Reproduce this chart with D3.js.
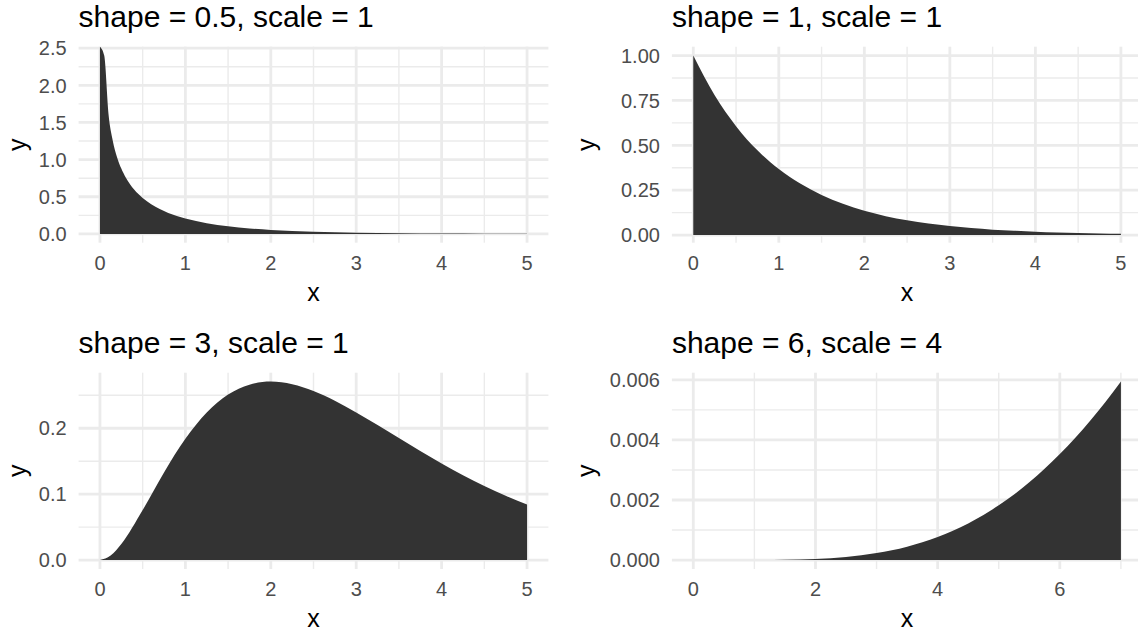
<!DOCTYPE html>
<html><head><meta charset="utf-8">
<script src="https://cdn.jsdelivr.net/npm/d3@7"></script>
<style>
html,body{margin:0;padding:0;background:#fff;overflow:hidden;}
svg{display:block;font-family:"Liberation Sans",Arial,Helvetica,sans-serif;}
</style></head>
<body>
<svg id="chart" width="1138" height="632"></svg>
<script>
// ---- data (density values) ----
const titles = ["shape = 0.5, scale = 1", "shape = 1, scale = 1", "shape = 3, scale = 1", "shape = 6, scale = 4"];

const p1X = [0, 0.05, 0.1, 0.15, 0.2, 0.25, 0.3, 0.35, 0.4, 0.45, 0.5, 0.6, 0.7, 0.8, 0.9, 1.0, 1.25, 1.5, 1.75, 2.0, 2.5, 3.0, 3.5, 4.0, 4.5, 5.0];
const p1Y = [Infinity, 2.400, 1.614, 1.254, 1.033, 0.879, 0.763, 0.672, 0.598, 0.536, 0.484, 0.400, 0.335, 0.283, 0.242, 0.208, 0.145, 0.103, 0.074, 0.054, 0.029, 0.016, 0.009, 0.005, 0.003, 0.0017];

const p2X = [0, 0.25, 0.5, 0.75, 1, 1.25, 1.5, 1.75, 2, 2.25, 2.5, 2.75, 3, 3.25, 3.5, 3.75, 4, 4.25, 4.5, 4.75, 5];
const p2Y = [1, 0.779, 0.607, 0.472, 0.368, 0.287, 0.223, 0.174, 0.135, 0.105, 0.082, 0.064, 0.050, 0.039, 0.030, 0.024, 0.018, 0.014, 0.011, 0.009, 0.007];

const p3X = [0, 0.125, 0.25, 0.5, 0.75, 1, 1.25, 1.5, 1.75, 2, 2.25, 2.5, 2.75, 3, 3.25, 3.5, 3.75, 4, 4.25, 4.5, 4.75, 5];
const p3Y = [0, 0.0069, 0.0243, 0.0758, 0.1329, 0.1839, 0.2238, 0.2510, 0.2661, 0.2707, 0.2668, 0.2565, 0.2417, 0.2240, 0.2049, 0.1850, 0.1654, 0.1465, 0.1288, 0.1125, 0.0976, 0.0842];

const p4X = [0, 0.5, 1, 1.5, 2, 2.5, 3, 3.25, 3.5, 3.75, 4, 4.25, 4.5, 4.75, 5, 5.25, 5.5, 5.75, 6, 6.25, 6.5, 6.75, 7];
const p4Y = [0, 0.00000006, 0.0000016, 0.0000106, 0.0000395, 0.0001064, 0.0002335, 0.000327, 0.0004455, 0.000591, 0.0007664, 0.000975, 0.001219, 0.001500, 0.0018215, 0.002184, 0.002589, 0.003037, 0.003530, 0.004067, 0.004648, 0.005274, 0.005942];

// tick values and labels
const xBreaks5 = [0, 1, 2, 3, 4, 5];
const xLabels5 = ["0", "1", "2", "3", "4", "5"];
const xBreaks7 = [0, 2, 4, 6];
const xLabels7 = ["0", "2", "4", "6"];
const p1YBreaks = [0, 0.5, 1, 1.5, 2, 2.5];
const p1YLabels = ["0.0", "0.5", "1.0", "1.5", "2.0", "2.5"];
const p2YBreaks = [0, 0.25, 0.5, 0.75, 1];
const p2YLabels = ["0.00", "0.25", "0.50", "0.75", "1.00"];
const p3YBreaks = [0, 0.1, 0.2];
const p3YLabels = ["0.0", "0.1", "0.2"];
const p4YBreaks = [0, 0.002, 0.004, 0.006];
const p4YLabels = ["0.000", "0.002", "0.004", "0.006"];

// ---- layout ----
const cols = [{left: 78.6, right: 548.4, plotX: 0}, {left: 671.9, right: 1142.3, plotX: 569}];
const rows = [{top: 46.7, bottom: 242.7, titleY: 26.7}, {top: 372.7, bottom: 569, titleY: 352.7}];

const panels = [
  {title: titles[0], xs: p1X, ys: p1Y, xb: xBreaks5, xl: xLabels5, yb: p1YBreaks, yl: p1YLabels, c: 0, r: 0},
  {title: titles[1], xs: p2X, ys: p2Y, xb: xBreaks5, xl: xLabels5, yb: p2YBreaks, yl: p2YLabels, c: 1, r: 0},
  {title: titles[2], xs: p3X, ys: p3Y, xb: xBreaks5, xl: xLabels5, yb: p3YBreaks, yl: p3YLabels, c: 0, r: 1},
  {title: titles[3], xs: p4X, ys: p4Y, xb: xBreaks7, xl: xLabels7, yb: p4YBreaks, yl: p4YLabels, c: 1, r: 1}
];

const svg = d3.select("#chart");
const gridCol = "#EBEBEB";

function minorBreaks(breaks, domain) {
  const step = breaks[1] - breaks[0];
  const out = [];
  for (let i = -1; i < breaks.length; i++) {
    const v = breaks[0] + (i + 0.5) * step;
    if (v >= domain[0] && v <= domain[1]) out.push(v);
  }
  return out;
}

panels.forEach(p => {
  const col = cols[p.c], row = rows[p.r];
  const xMin = d3.min(p.xs), xMax = d3.max(p.xs);
  const xPad = (xMax - xMin) * 0.05;
  const finite = p.ys.filter(v => isFinite(v));
  const yMin = d3.min(finite), yMax = d3.max(finite);
  const yPad = (yMax - yMin) * 0.05;
  const x = d3.scaleLinear().domain([xMin - xPad, xMax + xPad]).range([col.left, col.right]);
  const y = d3.scaleLinear().domain([yMin - yPad, yMax + yPad]).range([row.bottom, row.top]).clamp(true);

  const g = svg.append("g");
  // minor grid
  const xm = minorBreaks(p.xb, x.domain());
  const ym = minorBreaks(p.yb, y.domain());
  g.selectAll(".xminor").data(xm).join("line")
    .attr("x1", d => x(d)).attr("x2", d => x(d)).attr("y1", row.top).attr("y2", row.bottom)
    .attr("stroke", gridCol).attr("stroke-width", 1.4);
  g.selectAll(".yminor").data(ym).join("line")
    .attr("y1", d => y(d)).attr("y2", d => y(d)).attr("x1", col.left).attr("x2", col.right)
    .attr("stroke", gridCol).attr("stroke-width", 1.4);
  // major grid
  g.selectAll(".xmajor").data(p.xb).join("line")
    .attr("x1", d => x(d)).attr("x2", d => x(d)).attr("y1", row.top).attr("y2", row.bottom)
    .attr("stroke", gridCol).attr("stroke-width", 2.8);
  g.selectAll(".ymajor").data(p.yb).join("line")
    .attr("y1", d => y(d)).attr("y2", d => y(d)).attr("x1", col.left).attr("x2", col.right)
    .attr("stroke", gridCol).attr("stroke-width", 2.8);

  // area
  const pts = p.xs.map((v, i) => [v, p.ys[i]]);
  const area = d3.area().x(d => x(d[0])).y0(y(0)).y1(d => y(d[1])).curve(d3.curveMonotoneX);
  g.append("path").datum(pts).attr("d", area).attr("fill", "#333333");

  // x tick labels
  g.selectAll(".xt").data(p.xb).join("text")
    .attr("x", d => x(d)).attr("y", row.bottom + 27.3)
    .attr("text-anchor", "middle").attr("font-size", 20).attr("fill", "#4D4D4D")
    .text((d, i) => p.xl[i]);
  // y tick labels
  g.selectAll(".yt").data(p.yb).join("text")
    .attr("x", col.left - 12).attr("y", d => y(d)).attr("dy", "0.36em")
    .attr("text-anchor", "end").attr("font-size", 20).attr("fill", "#4D4D4D")
    .text((d, i) => p.yl[i]);
  // title
  g.append("text").attr("x", col.left).attr("y", row.titleY)
    .attr("font-size", 30).attr("fill", "#000").text(p.title);
  // axis titles
  g.append("text").attr("x", (col.left + col.right) / 2).attr("y", row.bottom + 58)
    .attr("text-anchor", "middle").attr("font-size", 25).attr("fill", "#000").text("x");
  const cy = (row.top + row.bottom) / 2;
  g.append("text").attr("transform", `translate(${col.plotX + 26},${cy}) rotate(-90)`)
    .attr("text-anchor", "middle").attr("font-size", 25).attr("fill", "#000").text("y");
});
</script>
</body></html>
